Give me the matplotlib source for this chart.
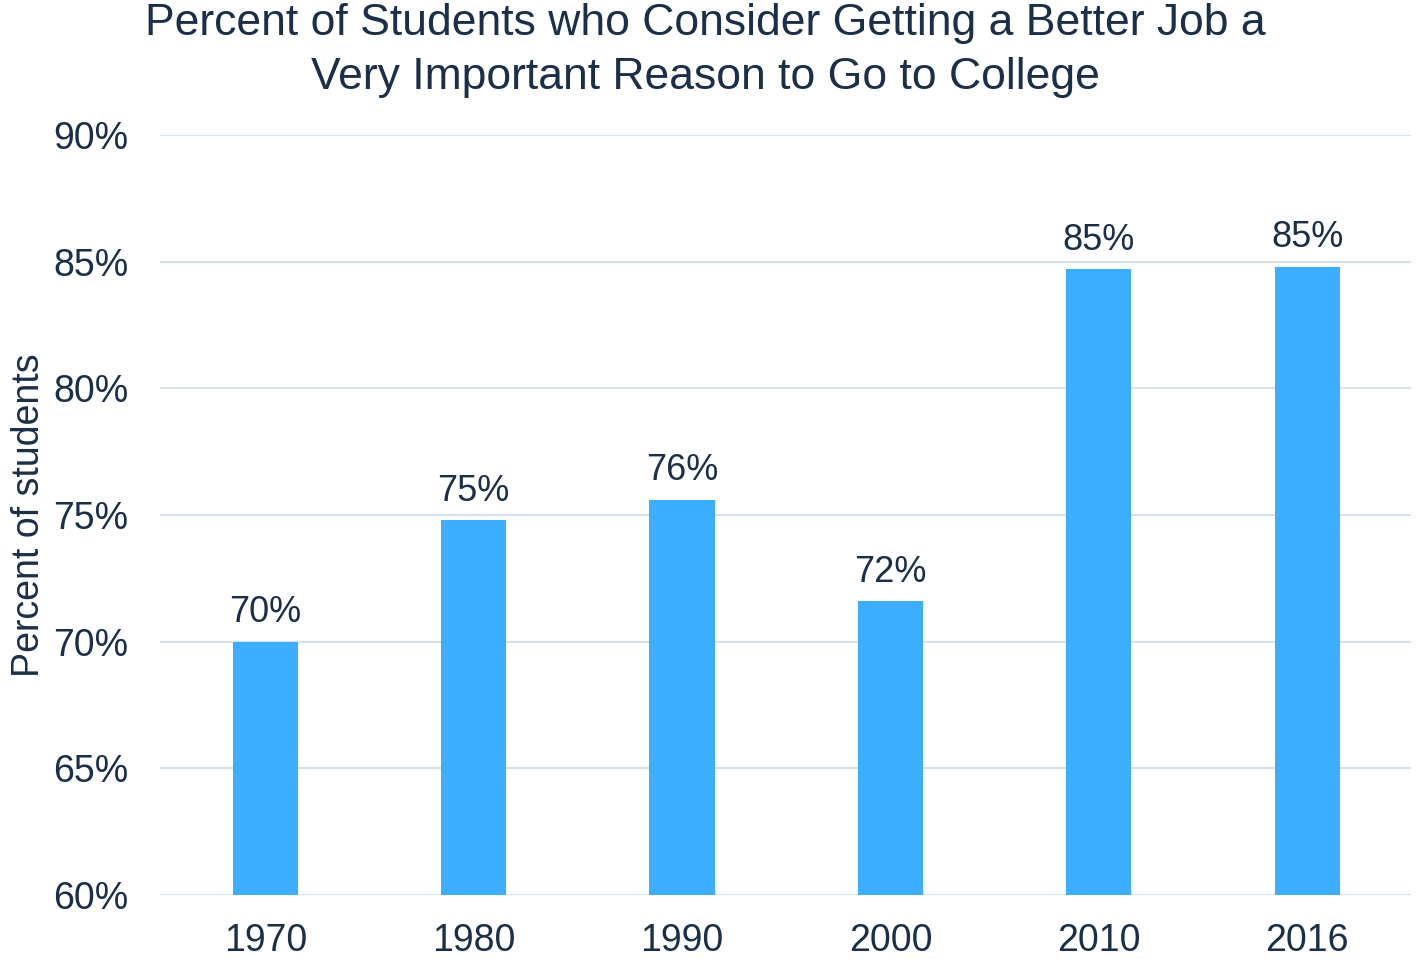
import matplotlib.pyplot as plt

years = ['1970', '1980', '1990', '2000', '2010', '2016']
percent = [70.0, 74.8, 75.6, 71.6, 84.7, 84.8]
bar_labels = ['70%', '75%', '76%', '72%', '85%', '85%']
yticks = [60, 65, 70, 75, 80, 85, 90]

plt.rcParams['font.family'] = ['Liberation Sans', 'DejaVu Sans']
text_color = '#1b2f4b'

fig, ax = plt.subplots(figsize=(14.17, 9.59), dpi=100)
fig.subplots_adjust(left=0.113, right=0.996, top=0.859, bottom=0.067)

x = range(len(years))
ax.bar(x, percent, width=0.313, color='#3dadff', zorder=2)
for xi, v, lab in zip(x, percent, bar_labels):
    ax.text(xi, v + 0.45, lab, ha='center', va='bottom', fontsize=26, color=text_color)

ax.set_xlim(-0.505, 5.5)
ax.set_ylim(60, 90)
ax.set_yticks(yticks)
ax.set_yticklabels([f'{t}%' for t in yticks])
ax.set_xticks(list(x))
ax.set_xticklabels(years)
ax.tick_params(axis='both', length=0, labelsize=27, labelcolor=text_color)
ax.tick_params(axis='y', pad=23)
ax.tick_params(axis='x', pad=20)
ax.grid(axis='y', color='#d3e1f1', linewidth=1.5, zorder=0)
for s in ax.spines.values():
    s.set_visible(False)

ax.set_ylabel('Percent of students', fontsize=27, color=text_color, labelpad=4)
fig.suptitle('Percent of Students who Consider Getting a Better Job a\nVery Important Reason to Go to College',
             fontsize=32, color=text_color, x=0.498, y=0.997, va='top', linespacing=1.4)

plt.savefig('out.png', dpi=100)
